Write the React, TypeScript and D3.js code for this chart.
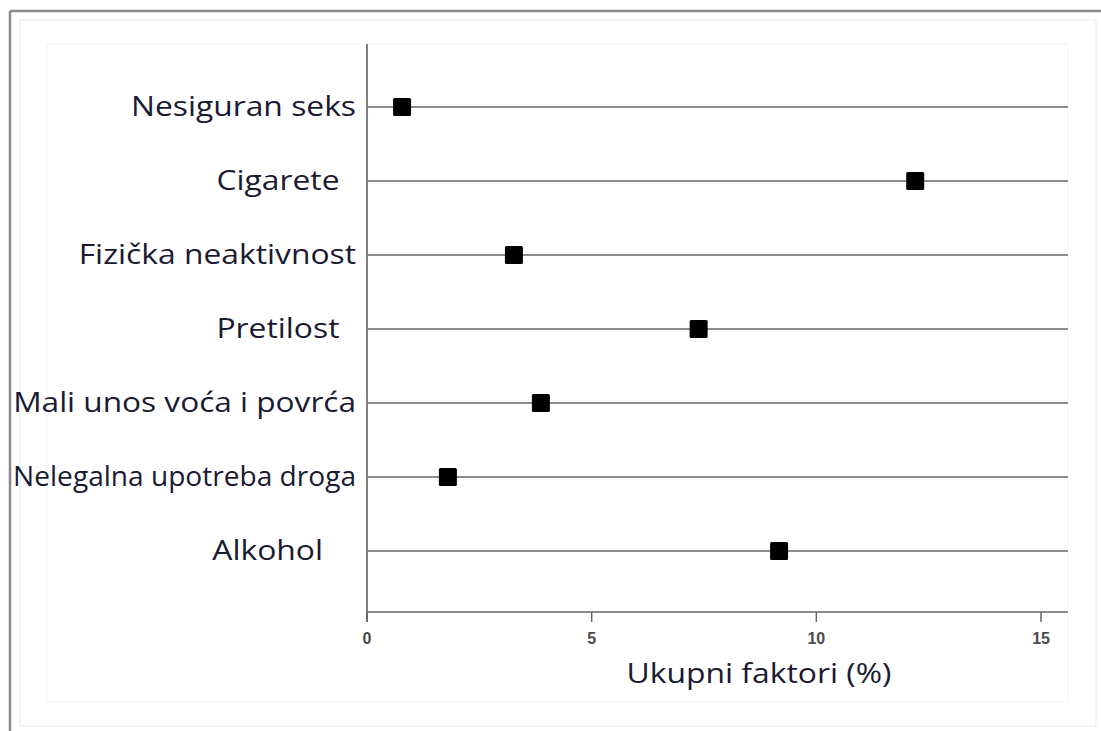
import React, { useLayoutEffect, useRef, useState } from "react";
import * as d3 from "d3";

// risk factors, top to bottom (trailing spaces kept as in the original labels)
const categories = [
  "Nesiguran seks",
  "Cigarete  ",
  "Fizička neaktivnost",
  "Pretilost  ",
  "Mali unos voća i povrća",
  "Nelegalna upotreba droga",
  "Alkohol    ",
];
const values = [0.78, 12.2, 3.27, 7.38, 3.87, 1.8, 9.17];
const xTicks = [0, 5, 10, 15];
const xTitle = "Ukupni faktori (%)";

const W = 1101;
const H = 731;
const plot = { left: 367, right: 1068, top: 44, bottom: 612 };
const labelEnd = 356;
const labelMaxW = 343;
const stretch = 1.2;

export default function App() {
  const x = d3.scaleLinear().domain([0, 15.6]).range([plot.left, plot.right]);
  const y = d3.scalePoint<string>().domain(categories).range([107, 551]);

  const labelRefs = useRef<(SVGTextElement | null)[]>([]);
  const [scales, setScales] = useState<number[]>(categories.map(() => stretch));

  useLayoutEffect(() => {
    const s = labelRefs.current.map((el) => {
      if (!el) return stretch;
      const w = el.getComputedTextLength();
      return Math.min(stretch, labelMaxW / w);
    });
    setScales(s);
  }, []);

  const sq = 18;
  const labelFont = "'Open Sans', 'Noto Sans', sans-serif";

  return (
    <div style={{ position: "fixed", left: 0, top: 0 }}>
      <svg width={W} height={H} style={{ display: "block", background: "#fff" }}>
        {/* frame */}
        <rect x={20} y={20} width={1076} height={706} fill="none" stroke="#eaf2f4" strokeWidth={1.5} />
        <rect x={47} y={44} width={1021} height={658} fill="none" stroke="#f0f6f7" strokeWidth={1} />
        <line x1={10} x2={W} y1={11} y2={11} stroke="#888" strokeWidth={2.5} />
        <line x1={10} x2={10} y1={11} y2={H} stroke="#888" strokeWidth={2.5} />

        {/* category rows */}
        {categories.map((c) => (
          <line
            key={"r" + c}
            x1={plot.left}
            x2={plot.right}
            y1={y(c)}
            y2={y(c)}
            stroke="#666"
            strokeWidth={1.5}
          />
        ))}

        {/* y axis */}
        <line x1={plot.left} x2={plot.left} y1={plot.top} y2={plot.bottom + 10} stroke="#808080" strokeWidth={2} />

        {/* x axis */}
        <line x1={plot.left} x2={plot.right} y1={plot.bottom} y2={plot.bottom} stroke="#666" strokeWidth={1.5} />
        {xTicks.map((t) => (
          <g key={"t" + t}>
            <line x1={x(t)} x2={x(t)} y1={plot.bottom} y2={plot.bottom + 10} stroke="#666" strokeWidth={1.5} />
            <text
              x={x(t)}
              y={plot.bottom + 32}
              textAnchor="middle"
              fontFamily="'Liberation Sans', Arial, sans-serif"
              fontWeight="bold"
              fontSize={16}
              fill="#4a4a4a"
            >
              {t}
            </text>
          </g>
        ))}
        <text
          transform={`translate(759,683) scale(1.18,1)`}
          textAnchor="middle"
          fontFamily={labelFont}
          fontSize={27}
          fill="#1a1a33"
        >
          {xTitle}
        </text>

        {/* labels */}
        {categories.map((c, i) => (
          <text
            key={"l" + c}
            ref={(el) => {
              labelRefs.current[i] = el;
            }}
            transform={`translate(${labelEnd},${(y(c) as number) + 9}) scale(${scales[i]},1)`}
            textAnchor="end"
            fontFamily={labelFont}
            fontSize={26.5}
            fill="#1a1a33"
            style={{ whiteSpace: "pre" }}
          >
            {c}
          </text>
        ))}

        {/* markers */}
        {categories.map((c, i) => (
          <rect
            key={"m" + c}
            x={x(values[i]) - sq / 2}
            y={(y(c) as number) - sq / 2}
            width={sq}
            height={sq}
            rx={1.5}
            fill="#000"
          />
        ))}
      </svg>
    </div>
  );
}
